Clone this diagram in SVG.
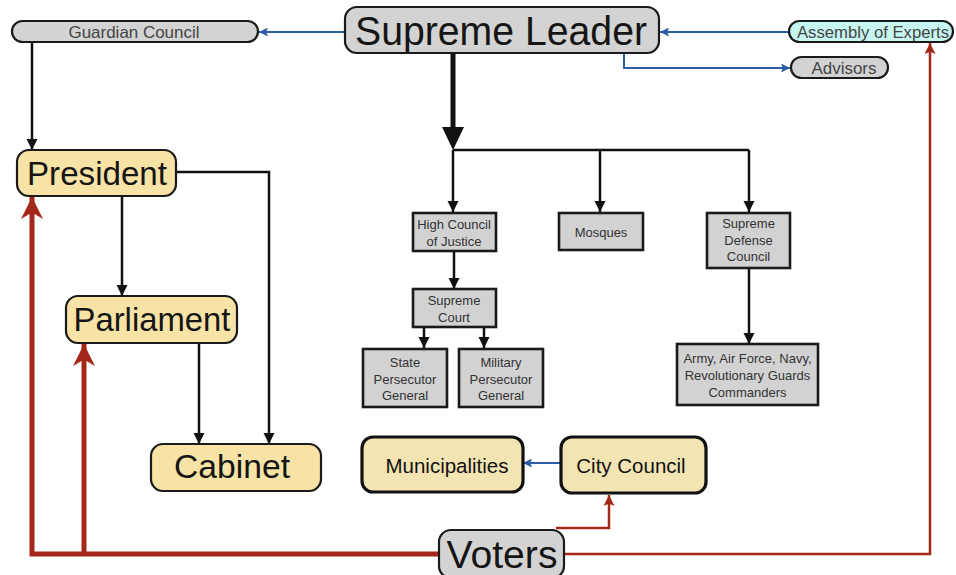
<svg xmlns="http://www.w3.org/2000/svg" width="956" height="575" viewBox="0 0 956 575">
  <style>
    .gray { fill: #d3d3d3; stroke: #1a1a1a; stroke-width: 2.2; }
    .tan { fill: #f8e3a6; stroke: #1a1a1a; stroke-width: 2.2; }
    .cream { fill: #f3e4b3; stroke: #111; stroke-width: 3.2; }
    .cyan { fill: #c6f6ef; stroke: #1a1a1a; stroke-width: 2.2; }
    .box { fill: #d2d2d2; stroke: #1a1a1a; stroke-width: 2.6; }
    text { font-family: "Liberation Sans", Arial, sans-serif; text-anchor: middle; }
    .big { font-size: 41px; fill: #151515; }
    .mid { font-size: 33px; fill: #151515; }
    .pill { font-size: 16.5px; fill: #444; }
    .small { font-size: 13px; fill: #333; }
    .city { font-size: 20.5px; fill: #111; }
    .blk { fill: none; stroke: #111; stroke-width: 2.5; }
    .blue { fill: none; stroke: #2c5ea8; stroke-width: 2; }
    .red { fill: none; stroke: #a3281a; stroke-width: 2.5; }
    .redthick { fill: none; stroke: #a3281a; stroke-width: 5; }
  </style>
  <defs>
    <marker id="ahBlack" markerUnits="userSpaceOnUse" viewBox="0 0 10 10" markerWidth="11" markerHeight="12" refX="10" refY="5" orient="auto">
      <path d="M0,0 L10,5 L0,10 z" fill="#111"/>
    </marker>
    <marker id="ahBlue" markerUnits="userSpaceOnUse" viewBox="0 0 10 10" markerWidth="9" markerHeight="9" refX="10" refY="5" orient="auto">
      <path d="M0,0 L10,5 L0,10 L2,5 z" fill="#2c5ea8"/>
    </marker>
    <marker id="ahRed" markerUnits="userSpaceOnUse" viewBox="0 0 10 10" markerWidth="12" markerHeight="11" refX="10" refY="5" orient="auto">
      <path d="M0,0 L10,5 L0,10 L2,5 z" fill="#a3281a"/>
    </marker>
    <marker id="ahRedBig" markerUnits="userSpaceOnUse" viewBox="0 0 10 10" markerWidth="22" markerHeight="23" refX="10" refY="5" orient="auto">
      <path d="M0,0 L10,5 L0,10 L3,5 z" fill="#a3281a"/>
    </marker>
  </defs>

  <rect width="956" height="575" fill="#fff"/>

  <!-- connectors -->
  <g id="connectors">
    <path class="blue" d="M345,32 H259" marker-end="url(#ahBlue)"/>
    <path class="blue" d="M789,32 H660" marker-end="url(#ahBlue)"/>
    <path class="blue" d="M624,53 V68 H790" marker-end="url(#ahBlue)"/>
    <path class="blue" d="M561,463 H523" marker-end="url(#ahBlue)"/>

    <!-- main trunk from the Supreme Leader -->
    <path d="M453,53 V132" fill="none" stroke="#111" stroke-width="5"/>
    <polygon points="442,127 464,127 453,150" fill="#111"/>
    <path class="blk" d="M453,150 H749"/>
    <path class="blk" d="M453,150 V212" marker-end="url(#ahBlack)"/>
    <path class="blk" d="M600,150 V212" marker-end="url(#ahBlack)"/>
    <path class="blk" d="M749,150 V212" marker-end="url(#ahBlack)"/>
    <path class="blk" d="M454,251 V289" marker-end="url(#ahBlack)"/>
    <path class="blk" d="M424,327 V348" marker-end="url(#ahBlack)"/>
    <path class="blk" d="M484,327 V348" marker-end="url(#ahBlack)"/>
    <path class="blk" d="M749,268 V344" marker-end="url(#ahBlack)"/>

    <path class="blk" d="M32,42 V150" marker-end="url(#ahBlack)"/>
    <path class="blk" d="M122,196 V296" marker-end="url(#ahBlack)"/>
    <path class="blk" d="M176,172 H269 V444" marker-end="url(#ahBlack)"/>
    <path class="blk" d="M199,343 V444" marker-end="url(#ahBlack)"/>

    <path class="redthick" d="M439,554 H32 V197" marker-end="url(#ahRedBig)"/>
    <path class="redthick" d="M84,554 V344" marker-end="url(#ahRedBig)"/>
    <path class="red" d="M564,554 H930 V43" marker-end="url(#ahRed)"/>
    <path class="red" d="M556,528 H609 V495" marker-end="url(#ahRed)"/>
  </g>

  <!-- nodes -->
  <g id="supreme-leader">
    <rect class="gray" x="345" y="7" width="314" height="46" rx="12"/>
    <text class="big" x="501" y="45" textLength="292" lengthAdjust="spacingAndGlyphs">Supreme Leader</text>
  </g>
  <g id="guardian-council">
    <rect class="gray" x="12" y="21" width="246" height="21" rx="10.5"/>
    <text class="pill" x="134" y="37.5" textLength="131" lengthAdjust="spacingAndGlyphs">Guardian Council</text>
  </g>
  <g id="assembly-of-experts">
    <rect class="cyan" x="789" y="21" width="164" height="21" rx="10.5"/>
    <text class="pill" x="873" y="37.5" textLength="152" lengthAdjust="spacingAndGlyphs">Assembly of Experts</text>
  </g>
  <g id="advisors">
    <rect class="gray" x="791" y="57" width="97" height="21" rx="10.5"/>
    <text class="pill" x="844" y="73.5" textLength="65" lengthAdjust="spacingAndGlyphs">Advisors</text>
  </g>

  <g id="president">
    <rect class="tan" x="17" y="150" width="159" height="46" rx="12"/>
    <text class="mid" x="97" y="185" textLength="140" lengthAdjust="spacingAndGlyphs">President</text>
  </g>
  <g id="parliament">
    <rect class="tan" x="66" y="296" width="171" height="47" rx="12"/>
    <text class="mid" x="152" y="331" textLength="157" lengthAdjust="spacingAndGlyphs">Parliament</text>
  </g>
  <g id="cabinet">
    <rect class="tan" x="151" y="444" width="170" height="47" rx="12"/>
    <text class="mid" x="232" y="478" textLength="116" lengthAdjust="spacingAndGlyphs">Cabinet</text>
  </g>

  <g id="high-council-of-justice">
    <rect class="box" x="413" y="213" width="83" height="38"/>
    <text class="small" x="454" y="229">High Council</text>
    <text class="small" x="454" y="246">of Justice</text>
  </g>
  <g id="mosques">
    <rect class="box" x="559" y="213" width="84" height="37"/>
    <text class="small" x="601" y="237">Mosques</text>
  </g>
  <g id="supreme-defense-council">
    <rect class="box" x="707" y="213" width="83" height="55"/>
    <text class="small" x="748.5" y="228">Supreme</text>
    <text class="small" x="748.5" y="245">Defense</text>
    <text class="small" x="748.5" y="261">Council</text>
  </g>
  <g id="supreme-court">
    <rect class="box" x="413" y="289" width="83" height="38"/>
    <text class="small" x="454" y="305">Supreme</text>
    <text class="small" x="454" y="322">Court</text>
  </g>
  <g id="state-persecutor-general">
    <rect class="box" x="363" y="349" width="84" height="58"/>
    <text class="small" x="405" y="367">State</text>
    <text class="small" x="405" y="384">Persecutor</text>
    <text class="small" x="405" y="400">General</text>
  </g>
  <g id="military-persecutor-general">
    <rect class="box" x="459" y="349" width="84" height="58"/>
    <text class="small" x="501" y="367">Military</text>
    <text class="small" x="501" y="384">Persecutor</text>
    <text class="small" x="501" y="400">General</text>
  </g>
  <g id="armed-forces">
    <rect class="box" x="677" y="344" width="141" height="61"/>
    <text class="small" x="747.5" y="363">Army, Air Force, Navy,</text>
    <text class="small" x="747.5" y="380">Revolutionary Guards</text>
    <text class="small" x="747.5" y="397">Commanders</text>
  </g>

  <g id="municipalities">
    <rect class="cream" x="362" y="437" width="161" height="55" rx="11"/>
    <text class="city" x="447" y="473">Municipalities</text>
  </g>
  <g id="city-council">
    <rect class="cream" x="561" y="437" width="145" height="56" rx="11"/>
    <text class="city" x="631" y="473">City Council</text>
  </g>
  <g id="voters">
    <rect class="gray" x="439" y="530" width="125" height="48" rx="12"/>
    <text x="502" y="568" font-size="39" fill="#151515" textLength="111" lengthAdjust="spacingAndGlyphs">Voters</text>
  </g>
</svg>
